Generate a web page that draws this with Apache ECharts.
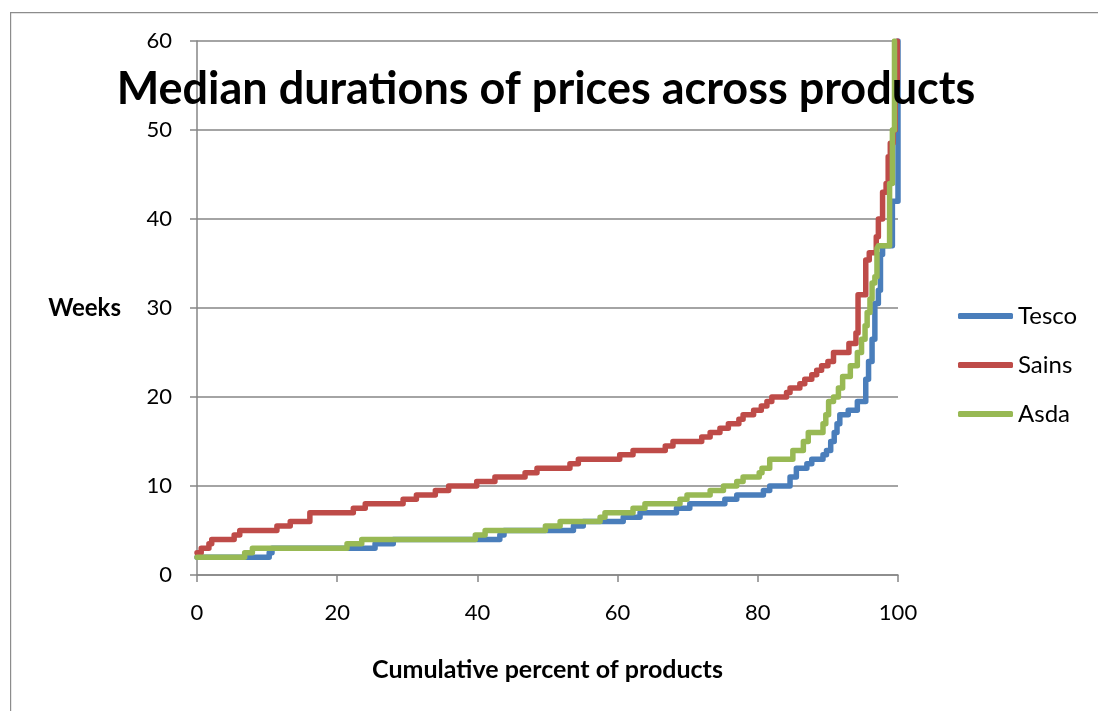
<!DOCTYPE html>
<html>
<head>
<meta charset="utf-8">
<script src="https://cdn.jsdelivr.net/npm/echarts@6/dist/echarts.min.js"></script>
<style>
html,body{margin:0;padding:0;background:#fff;}
#chart{width:1098px;height:711px;}
</style>
</head>
<body>
<div id="chart"></div>
<script>
// Step breakpoints: [cumulative percent of products, median duration in weeks]
const tesco = [[0,2],[10.3,2.5],[10.7,3],[25.4,3.5],[28,4],[43.2,4.5],[43.8,5],[53.7,5.5],[55.1,6],[60.8,6.5],[63.2,7],[68.4,7.5],[70.3,8],[75.3,8.5],[77,9],[80.8,9.5],[81.7,10],[84.6,11],[85.5,12],[87,12.5],[87.7,13],[89.3,13.5],[89.8,14],[90.4,15],[90.9,16],[91.3,17],[91.7,18],[92.9,18.5],[94.2,19.5],[95.4,22],[95.8,24],[96.3,26.5],[96.7,30.5],[97.2,32],[97.5,36],[97.8,37],[98.9,37],[99.2,42],[99.7,42],[100,60]];
const sains = [[0,2.5],[0.6,3],[1.7,3.5],[2.1,4],[5.3,4.5],[6.1,5],[11.4,5.5],[13.3,6],[16.1,7],[22.3,7.5],[24,8],[29.4,8.5],[31.3,9],[34,9.5],[35.9,10],[39.9,10.5],[42.5,11],[46.8,11.5],[48.5,12],[53.2,12.5],[54.4,13],[60.3,13.5],[62.2,14],[66.8,14.5],[67.9,15],[72,15.5],[73.2,16],[74.6,16.5],[75.8,17],[77.3,17.5],[77.9,18],[79.4,18.5],[80.5,19],[81.3,19.5],[82,20],[84.1,20.5],[84.6,21],[86,21.5],[86.7,22],[87.7,22.5],[88.4,23],[89.1,23.5],[90,24],[90.8,25],[93,26],[94,27.2],[94.3,31.5],[95.4,35.4],[95.9,36.2],[96.9,38],[97.2,40],[97.8,43],[98.3,44],[98.6,47],[98.9,48.5],[99.3,50],[99.6,55],[99.9,60]];
const asda = [[0,2],[6.8,2.5],[7.9,3],[21.4,3.5],[23.5,4],[39.7,4.5],[41.1,5],[49.7,5.5],[51.8,6],[57.5,6.5],[58.2,7],[62.2,7.5],[63.9,8],[68.9,8.5],[69.9,9],[73.2,9.5],[75.1,10],[77,10.5],[77.9,11],[80.2,11.5],[80.6,12],[81.7,13],[85,14],[86.5,15],[87.2,16],[89.3,17],[89.7,18],[90.1,19.5],[90.8,20],[91.5,21],[92.1,22.3],[93.2,23.5],[94.2,25],[94.8,26.5],[95.3,28],[95.6,29.5],[96,31],[96.3,32.8],[96.7,33.5],[97,36.7],[97.2,37],[98.5,37],[98.8,44],[99.2,50],[99.5,60]];
const seriesNames = ['Tesco','Sains','Asda'];
const seriesColors = ['#4A7EBB','#BE4B48','#98B954'];
const titleText = 'Median durations of prices across products';
const xTitle = 'Cumulative percent of products';
const yTitle = 'Weeks';

const chart = echarts.init(document.getElementById('chart'), null, {renderer:'canvas'});
const font = 'Lato';
const axisGray = '#868686';
const allData = [tesco, sains, asda];

chart.setOption({
  animation: false,
  backgroundColor: '#ffffff',
  graphic: [{
    type: 'rect', left: 10, top: 12, z: -10,
    shape: {width: 1120, height: 720},
    style: {fill: '#ffffff', stroke: '#8c8c8c', lineWidth: 1.2}
  }],
  title: {
    text: titleText,
    left: 541, top: 62, textAlign: 'center',
    textStyle: {fontFamily: font, fontWeight: 'bold', fontSize: 45, color: '#000'}
  },
  legend: {
    orient: 'vertical', left: 958, top: 304, padding: 0,
    itemWidth: 55, itemHeight: 6, itemGap: 25, icon: 'roundRect',
    textStyle: {fontFamily: font, fontSize: 24, color: '#000', lineHeight: 24},
    data: seriesNames
  },
  grid: {left: 197, right: 200, top: 41, bottom: 136, containLabel: false},
  xAxis: {
    type: 'value', min: 0, max: 100, interval: 20,
    name: xTitle, nameLocation: 'middle', nameGap: 82,
    nameTextStyle: {fontFamily: font, fontWeight: 'bold', fontSize: 25, color: '#000'},
    axisLine: {show: true, lineStyle: {color: axisGray, width: 1.5}},
    axisTick: {show: true, inside: false, length: 7, lineStyle: {color: axisGray, width: 1.5}},
    splitLine: {show: false},
    axisLabel: {fontFamily: font, fontSize: 22, color: '#000', margin: 27}
  },
  yAxis: {
    type: 'value', min: 0, max: 60, interval: 10,
    name: yTitle, nameLocation: 'middle', nameRotate: 0, nameGap: 76,
    nameTextStyle: {fontFamily: font, fontWeight: 'bold', fontSize: 24, color: '#000', align: 'right', verticalAlign: 'middle'},
    axisLine: {show: true, lineStyle: {color: axisGray, width: 1.5}},
    axisTick: {show: true, inside: false, length: 7, lineStyle: {color: axisGray, width: 1.5}},
    splitLine: {show: true, lineStyle: {color: axisGray, width: 1.5}},
    axisLabel: {fontFamily: font, fontSize: 22, color: '#000', margin: 25}
  },
  series: seriesNames.map((n, i) => ({
    name: n, type: 'line', step: 'end',
    data: allData[i], showSymbol: false, symbol: 'none', clip: true,
    color: seriesColors[i],
    lineStyle: {width: 5.5, color: seriesColors[i], cap: 'round', join: 'round'},
    itemStyle: {color: seriesColors[i]}
  }))
});
</script>
</body>
</html>
